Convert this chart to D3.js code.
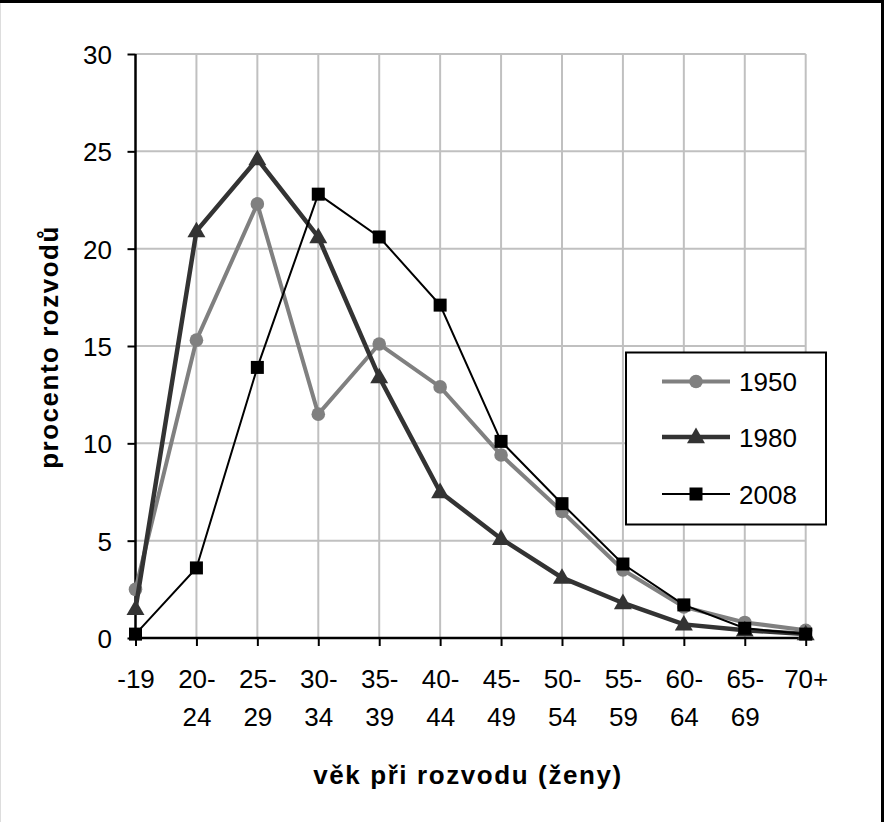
<!DOCTYPE html>
<html><head><meta charset="utf-8">
<script src="https://cdn.jsdelivr.net/npm/d3@7"></script>
<style>body{margin:0;background:#fff}svg{display:block}text{font-family:"Liberation Sans",Arial,sans-serif}</style>
</head><body><svg id="c" width="884" height="822"></svg>
<script>
const categories = ["-19","20-24","25-29","30-34","35-39","40-44","45-49","50-54","55-59","60-64","65-69","70+"];
const tickLine1 = ["-19","20-","25-","30-","35-","40-","45-","50-","55-","60-","65-","70+"];
const tickLine2 = ["","24","29","34","39","44","49","54","59","64","69",""];
const s1950 = [2.5,15.3,22.3,11.5,15.1,12.9,9.4,6.5,3.5,1.6,0.8,0.4];
const s1980 = [1.5,20.9,24.6,20.6,13.4,7.5,5.1,3.1,1.8,0.7,0.4,0.2];
const s2008 = [0.2,3.6,13.9,22.8,20.6,17.1,10.1,6.9,3.8,1.7,0.5,0.2];
const yTicks = [0,5,10,15,20,25,30];
const seriesNames = ["1950","1980","2008"];

const FS = 26;
const svg = d3.select("#c");
// frame
svg.append("line").attr("x1",0.5).attr("x2",0.5).attr("y1",0).attr("y2",822).attr("stroke","#ddd").attr("stroke-width",1);
svg.append("line").attr("x1",0).attr("x2",884).attr("y1",1.5).attr("y2",1.5).attr("stroke","#000").attr("stroke-width",3);
svg.append("line").attr("x1",882.5).attr("x2",882.5).attr("y1",0).attr("y2",822).attr("stroke","#000").attr("stroke-width",3);

const L=135.5, R=805.7, T=54, B=638;
const x = d3.scalePoint().domain(categories).range([L,R]);
const y = d3.scaleLinear().domain([0,30]).range([B,T]);

// gridlines
const g = svg.append("g");
g.selectAll("line.h").data(yTicks.filter(d=>d>0)).enter().append("line")
 .attr("x1",L).attr("x2",R).attr("y1",d=>y(d)).attr("y2",d=>y(d)).attr("stroke","#c0c0c0").attr("stroke-width",2);
g.selectAll("line.v").data(categories.slice(1)).enter().append("line")
 .attr("x1",d=>x(d)).attr("x2",d=>x(d)).attr("y1",T).attr("y2",B).attr("stroke","#c0c0c0").attr("stroke-width",2);

// axes
const yAxis = d3.axisLeft(y).tickValues(yTicks).tickSize(8).tickPadding(15.5).tickFormat(d3.format("d"));
const ya = svg.append("g").attr("transform",`translate(${L},0)`).call(yAxis);
ya.select(".domain").attr("stroke","#000").attr("stroke-width",2.5).attr("d",`M0,${T}V${B}`);
ya.selectAll(".tick line").attr("stroke","#000").attr("stroke-width",2);
ya.selectAll(".tick text").attr("font-size",FS).attr("fill","#000").attr("dy","0.36em").attr("font-family","Liberation Sans, Arial, sans-serif");

const xAxis = d3.axisBottom(x).tickSize(8).tickFormat(()=>"");
const xa = svg.append("g").attr("transform",`translate(0,${B})`).call(xAxis);
xa.select(".domain").attr("stroke","#000").attr("stroke-width",2.5).attr("d",`M${L},0H${R}`);
xa.selectAll(".tick line").attr("stroke","#000").attr("stroke-width",2);
xa.selectAll(".tick").each(function(d,i){
  const t = d3.select(this).append("text").attr("fill","#000").attr("font-size",FS).attr("text-anchor","middle")
   .attr("font-family","Liberation Sans, Arial, sans-serif");
  t.append("tspan").attr("x",0).attr("y",50).text(tickLine1[i]);
  if(tickLine2[i]) t.append("tspan").attr("x",0).attr("y",88).text(tickLine2[i]);
});

// titles
svg.append("text").attr("x",468).attr("y",784).attr("text-anchor","middle").attr("font-size",FS).attr("font-weight","bold").attr("letter-spacing","1.6px").text("věk při rozvodu (ženy)");
svg.append("text").attr("transform","translate(58,347) rotate(-90)").attr("text-anchor","middle").attr("font-size",FS).attr("font-weight","bold").attr("letter-spacing","1.5px").text("procento rozvodů");

const styles = [
 {data:s1950,color:"#808080",w:4,marker:"circle"},
 {data:s1980,color:"#333333",w:4.5,marker:"triangle"},
 {data:s2008,color:"#000000",w:2,marker:"square"}
];
const line = d3.line().x((d,i)=>x(categories[i])).y(d=>y(d));
function drawMarker(sel,type,color,cx,cy){
  if(type==="circle") sel.append("circle").attr("cx",cx).attr("cy",cy).attr("r",6.8).attr("fill",color);
  else if(type==="triangle") sel.append("path").attr("d",d3.symbol(d3.symbolTriangle,140)()).attr("transform",`translate(${cx},${cy+1})`).attr("fill",color);
  else sel.append("rect").attr("x",cx-6.5).attr("y",cy-6.5).attr("width",13).attr("height",13).attr("fill",color);
}
styles.forEach(s=>{
  const gs = svg.append("g");
  gs.append("path").datum(s.data).attr("d",line).attr("fill","none").attr("stroke",s.color).attr("stroke-width",s.w).attr("stroke-linejoin","miter");
  s.data.forEach((v,i)=>drawMarker(gs,s.marker,s.color,x(categories[i]),y(v)));
});

// legend
const lg = svg.append("g");
lg.append("rect").attr("x",626).attr("y",352.5).attr("width",200).attr("height",172).attr("fill","#fff").attr("stroke","#000").attr("stroke-width",2);
const rowsY = [381.5,437,494];
styles.forEach((s,i)=>{
  lg.append("line").attr("x1",662).attr("x2",730).attr("y1",rowsY[i]).attr("y2",rowsY[i]).attr("stroke",s.color).attr("stroke-width",s.w);
  drawMarker(lg,s.marker,s.color,696,rowsY[i]);
  lg.append("text").attr("x",739).attr("y",rowsY[i]+9.5).attr("font-size",FS).attr("fill","#000").text(seriesNames[i]);
});
</script></body></html>
